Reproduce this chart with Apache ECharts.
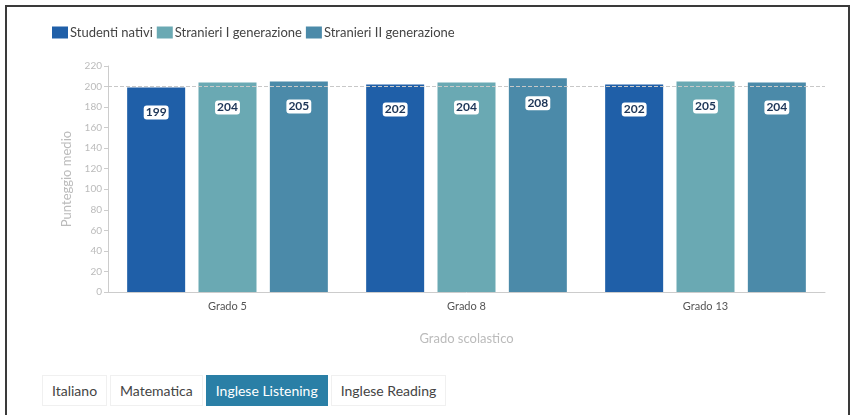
<!DOCTYPE html>
<html>
<head>
<meta charset="utf-8">
<script src="https://cdn.jsdelivr.net/npm/echarts@6/dist/echarts.min.js"></script>
<style>
  html, body { margin: 0; padding: 0; background: #fff; }
  .frame {
    position: absolute; left: 5px; top: 5px; width: 845px; height: 420px;
    border: 2px solid #3a3a3a; box-sizing: border-box; pointer-events: none;
  }
  #chart { position: absolute; left: 0; top: 0; width: 855px; height: 360px; }
  .tabs {
    position: absolute; left: 42px; top: 375px; display: flex;
    font-family: Lato, sans-serif; font-size: 14px; color: #444;
  }
  .tabs span {
    padding: 0 9px; height: 29px; line-height: 29px;
    border: 1px solid #f0f0f0; margin-right: 3px; background: #fff;
  }
  .tabs span.active { background: #2a7fa6; color: #fff; border-color: #2a7fa6; }
</style>
</head>
<body>
<div id="chart"></div>
<div class="tabs">
  <span>Italiano</span><span>Matematica</span><span class="active">Inglese Listening</span><span>Inglese Reading</span>
</div>
<div class="frame"></div>
<script>
const categories = ['Grado 5', 'Grado 8', 'Grado 13']
const seriesNames = ['Studenti nativi', 'Stranieri I generazione', 'Stranieri II generazione']
const nativi = [199, 202, 202]
const stranieriI = [204, 204, 205]
const stranieriII = [205, 208, 204]
const colors = ['#1f5fa8', '#6aa9b3', '#4b8aa9']

const chart = echarts.init(document.getElementById('chart'))

function makeSeries(name, data, color, withLine) {
  const s = {
    name: name,
    type: 'bar',
    data: data,
    barWidth: 58,
    barGap: '23%',
    itemStyle: { color: color },
    label: {
      show: true,
      position: 'insideTop',
      distance: 18,
      color: '#1d3557',
      fontWeight: 'bold',
      fontSize: 12,
      fontFamily: 'Lato',
      backgroundColor: '#fff',
      borderRadius: 3,
      padding: [1, 2]
    }
  }
  if (withLine) {
    s.markLine = {
      silent: true,
      symbol: 'none',
      label: { show: false },
      lineStyle: { color: '#c8c8c8', type: 'dashed', width: 1 },
      data: [{ yAxis: 200 }]
    }
    s.z = 1
  }
  return s
}

chart.setOption({
  animation: false,
  textStyle: { fontFamily: 'Lato' },
  legend: {
    left: 47,
    top: 21,
    itemWidth: 16,
    itemHeight: 12,
    itemGap: 4,
    icon: 'rect',
    textStyle: { fontSize: 13, color: '#444', padding: [0, 0, 0, -3] }
  },
  grid: { left: 108, right: 30, top: 66, bottom: 68 },
  xAxis: {
    type: 'category',
    data: categories,
    name: 'Grado scolastico',
    nameLocation: 'middle',
    nameGap: 40,
    nameTextStyle: { color: '#bbb', fontSize: 13 },
    axisLine: { lineStyle: { color: '#ccc' } },
    axisTick: { show: false },
    axisLabel: { color: '#555', fontSize: 11, margin: 9 }
  },
  yAxis: {
    type: 'value',
    min: 0,
    max: 220,
    interval: 20,
    name: 'Punteggio medio',
    nameLocation: 'middle',
    nameGap: 33,
    nameTextStyle: { color: '#bbb', fontSize: 13 },
    axisLine: { show: true, lineStyle: { color: '#ccc' } },
    axisTick: { show: true, length: 4, lineStyle: { color: '#ccc' } },
    axisLabel: { color: '#bbb', fontSize: 10, margin: 6 },
    splitLine: { show: false }
  },
  series: [
    makeSeries(seriesNames[0], nativi, colors[0], true),
    makeSeries(seriesNames[1], stranieriI, colors[1], false),
    makeSeries(seriesNames[2], stranieriII, colors[2], false)
  ]
})
</script>
</body>
</html>
